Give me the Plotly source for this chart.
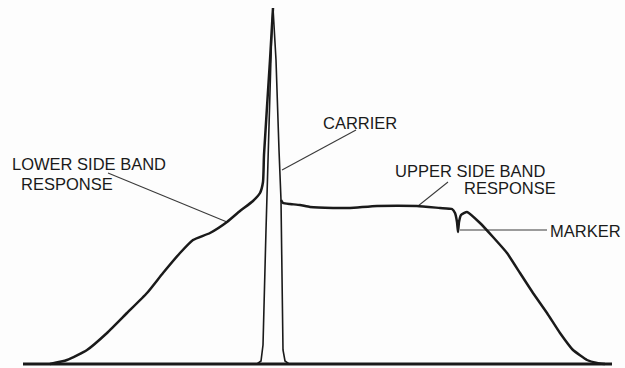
import plotly.graph_objects as go

# Sweep position (horizontal) and relative response (vertical, baseline = 0)
baseline_x = [23, 257, 261, 263, 266, 268, 271.5, 273, 276, 279, 281, 283, 285, 289, 612]
baseline_y = [0, 0, 3, 19, 134, 214, 324, 356, 304, 214, 164, 14, 3, 0, 0]

lower_x = [50, 67, 87, 107, 127, 147, 163, 180, 193, 210, 227, 240, 253, 260, 263, 264, 270, 273]
lower_y = [0, 4, 14, 31, 51, 71, 91, 111, 124, 131, 142, 153, 163, 171, 182, 209, 304, 356]

upper_x = [281, 283, 290, 300, 310, 333, 350, 377, 417, 440, 452, 455, 457, 458, 459, 461,
           467, 480, 493, 507, 520, 533, 547, 560, 573, 587, 597, 605]
upper_y = [164, 161, 160, 159, 157, 156, 156, 158, 158, 156, 155, 151, 142, 132, 142, 149,
           152, 141, 127, 111, 91, 71, 51, 31, 14, 4, 1, 0]

# Callout labels: (text, x, y, anchor)
labels = [
    ("LOWER SIDE BAND", 89, 200, "center"),
    ("RESPONSE", 67, 180.5, "center"),
    ("CARRIER", 360, 241, "center"),
    ("UPPER SIDE BAND", 470, 193, "center"),
    ("RESPONSE", 510, 176, "center"),
    ("MARKER", 585, 133, "center"),
]
# Leader lines: from label to curve
leaders = [
    ([108, 227], [191, 142]),
    ([356, 282], [234, 194]),
    ([448, 418], [182, 158]),
    ([460, 547], [134, 134]),
]

ink = "#1a1a1a"
fig = go.Figure()

for lx, ly in leaders:
    fig.add_trace(go.Scatter(x=lx, y=ly, mode="lines",
                             line=dict(color="#3a3a3a", width=1.1), hoverinfo="skip"))

fig.add_trace(go.Scatter(x=baseline_x, y=baseline_y, mode="lines",
                         line=dict(color=ink, width=1.6), hoverinfo="skip"))
fig.add_trace(go.Scatter(x=[23, 612], y=[0, 0], mode="lines",
                         line=dict(color=ink, width=3), hoverinfo="skip"))
fig.add_trace(go.Scatter(x=lower_x, y=lower_y, mode="lines",
                         line=dict(color=ink, width=2.5, shape="spline", smoothing=0.5),
                         hoverinfo="skip"))
fig.add_trace(go.Scatter(x=upper_x, y=upper_y, mode="lines",
                         line=dict(color=ink, width=2.5, shape="spline", smoothing=0.4),
                         hoverinfo="skip"))

for text, x, y, anchor in labels:
    fig.add_annotation(x=x, y=y, xref="x", yref="y", text=text, showarrow=False,
                       xanchor=anchor, yanchor="middle",
                       font=dict(family="Liberation Sans, Arial, sans-serif", size=16.5, color=ink))

fig.update_layout(
    width=625, height=368,
    margin=dict(l=0, r=0, t=0, b=0),
    paper_bgcolor="#fdfdfd", plot_bgcolor="#fdfdfd",
    showlegend=False,
    xaxis=dict(range=[0, 625], visible=False, fixedrange=True),
    yaxis=dict(range=[-4, 364], visible=False, fixedrange=True),
)

fig.write_html("out.html")
